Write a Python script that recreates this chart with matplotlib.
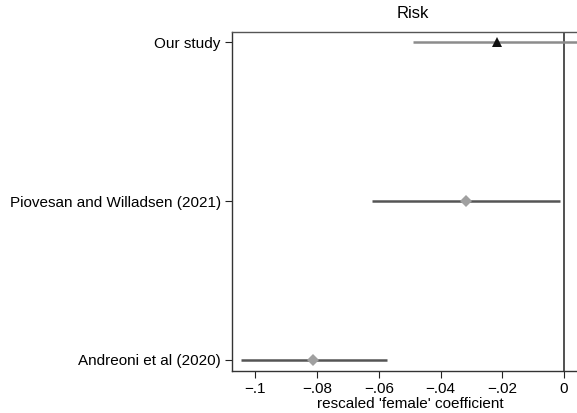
import matplotlib
matplotlib.use("Agg")
import matplotlib.pyplot as plt

studies = ["Andreoni et al (2020)", "Piovesan and Willadsen (2021)", "Our study"]
estimates = [-0.0813, -0.0319, -0.0218]
ci_low = [-0.1047, -0.0623, -0.0488]
ci_high = [-0.0575, -0.0013, 0.0070]
xticks = [-0.1, -0.08, -0.06, -0.04, -0.02, 0]
xticklabels = ["\u2212.1", "\u2212.08", "\u2212.06", "\u2212.04", "\u2212.02", "0"]

plt.rcParams['font.family'] = ['Liberation Sans', 'DejaVu Sans']

fig = plt.figure(figsize=(5.77, 4.13), dpi=100)
ax_w = 0.598 + 0.02
ax = fig.add_axes([0.402, 0.1017, ax_w, 0.8208])

ypos = [1, 2, 3]
line_colors = ["#555555", "#555555", "#8c8c8c"]
markers = ["D", "D", "^"]
mcolors = ["#a0a0a0", "#a0a0a0", "#111111"]
msizes = [6, 6, 7.5]

ax.axvline(0, color="#222222", lw=1.1, zorder=1)
for y, e, lo, hi, lc, m, mc, ms in zip(ypos, estimates, ci_low, ci_high,
                                       line_colors, markers, mcolors, msizes):
    ax.plot([lo, hi], [y, y], color=lc, lw=1.8, zorder=2, solid_capstyle="butt")
    ax.plot([e], [y], marker=m, color=mc, markersize=ms,
            markeredgewidth=0, zorder=3, linestyle="none")

px_per_unit = 3085.0
ax_width_px = ax_w * 577
left = -0.1 - 23.5 / px_per_unit
ax.set_xlim(left, left + ax_width_px / px_per_unit)
ax.set_ylim(1 - 11 / 159, 3 + 10 / 159)

ax.set_xticks(xticks)
ax.set_xticklabels(xticklabels, fontsize=11)
ax.set_yticks(ypos)
ax.set_yticklabels(studies, fontsize=11)
ax.tick_params(axis="both", length=5, width=0.8, color="#222222", pad=3)
ax.set_xlabel("rescaled 'female' coefficient", fontsize=11, labelpad=1)
for s in ["left", "bottom", "top"]:
    ax.spines[s].set_color("#333333")
    ax.spines[s].set_linewidth(1.0)
ax.spines["right"].set_visible(False)
ax.spines["top"].set_color("#555555")

fig.text(413 / 577, 1 - 13 / 413, "Risk", ha="center", va="center", fontsize=12)

fig.savefig("out.png", dpi=100)
